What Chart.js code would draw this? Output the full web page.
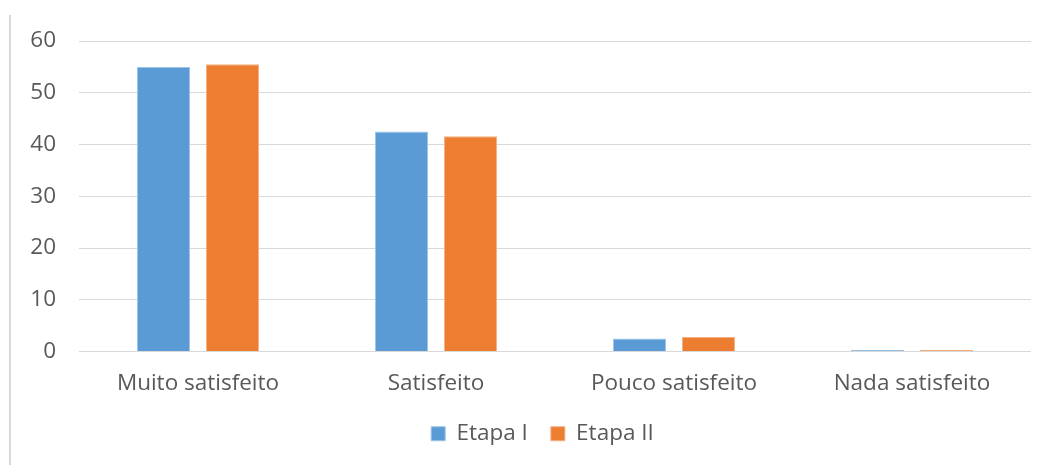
<!DOCTYPE html>
<html>
<head>
<meta charset="utf-8">
<script src="https://cdn.jsdelivr.net/npm/chart.js@4/dist/chart.umd.min.js"></script>
<style>
  html, body { margin: 0; padding: 0; background: #fff; }
  #wrap { position: relative; width: 1049px; height: 465px; }
  #edge { position: absolute; left: 9px; top: 15px; width: 2px; height: 450px; background: #d9d9d9; }
  canvas { position: absolute; left: 0; top: 0; }
</style>
</head>
<body>
<div id="wrap">
  <div id="edge"></div>
  <canvas id="chart" width="1049" height="465"></canvas>
</div>
<script>
// Satisfaction levels and percentage per stage
const categories = ['Muito satisfeito', 'Satisfeito', 'Pouco satisfeito', 'Nada satisfeito'];
const etapaI = [55, 42.5, 2.5, 0.3];
const etapaII = [55.5, 41.6, 2.8, 0.3];
const yTicks = [0, 10, 20, 30, 40, 50, 60];

const textColor = '#595959';
const fontFamily = "'Open Sans', 'Noto Sans', sans-serif";
const fontSize = 22.5;

// Nudge the legend box under the middle of the plot area
const legendOffset = {
  id: 'legendOffset',
  afterLayout(chart) {
    const lg = chart.legend;
    if (!lg) return;
    lg.left += 17; lg.right += 17;
    lg.top -= 9; lg.bottom -= 9;
  }
};

new Chart(document.getElementById('chart'), {
  type: 'bar',
  data: {
    labels: categories,
    datasets: [
      { label: 'Etapa I', data: etapaI, backgroundColor: '#5b9bd5', borderColor: '#9dc3e6', borderWidth: 1, borderSkipped: 'bottom' },
      { label: 'Etapa II', data: etapaII, backgroundColor: '#ed7d31', borderColor: '#f4b183', borderWidth: 1, borderSkipped: 'bottom' }
    ]
  },
  plugins: [legendOffset],
  options: {
    responsive: false,
    animation: false,
    devicePixelRatio: 1,
    layout: { padding: { top: 41, right: 18, left: 20, bottom: 1 } },
    datasets: { bar: { categoryPercentage: 0.58, barPercentage: 0.77 } },
    scales: {
      x: {
        grid: { display: false },
        border: { display: false },
        ticks: { color: textColor, font: { family: fontFamily, size: fontSize }, padding: 11, maxRotation: 0 }
      },
      y: {
        min: 0, max: 60,
        afterBuildTicks: axis => { axis.ticks = yTicks.map(v => ({ value: v })); },
        afterFit: axis => { axis.width = 59; },
        grid: { color: '#d9d9d9', lineWidth: 1, drawTicks: false },
        border: { display: false },
        ticks: { color: textColor, font: { family: fontFamily, size: fontSize }, padding: 23 }
      }
    },
    plugins: {
      tooltip: { enabled: false },
      legend: {
        position: 'bottom',
        labels: {
          color: textColor,
          font: { family: fontFamily, size: fontSize },
          boxWidth: 14, boxHeight: 14, padding: 23, useBorderRadius: false
        }
      }
    }
  }
});
</script>
</body>
</html>
